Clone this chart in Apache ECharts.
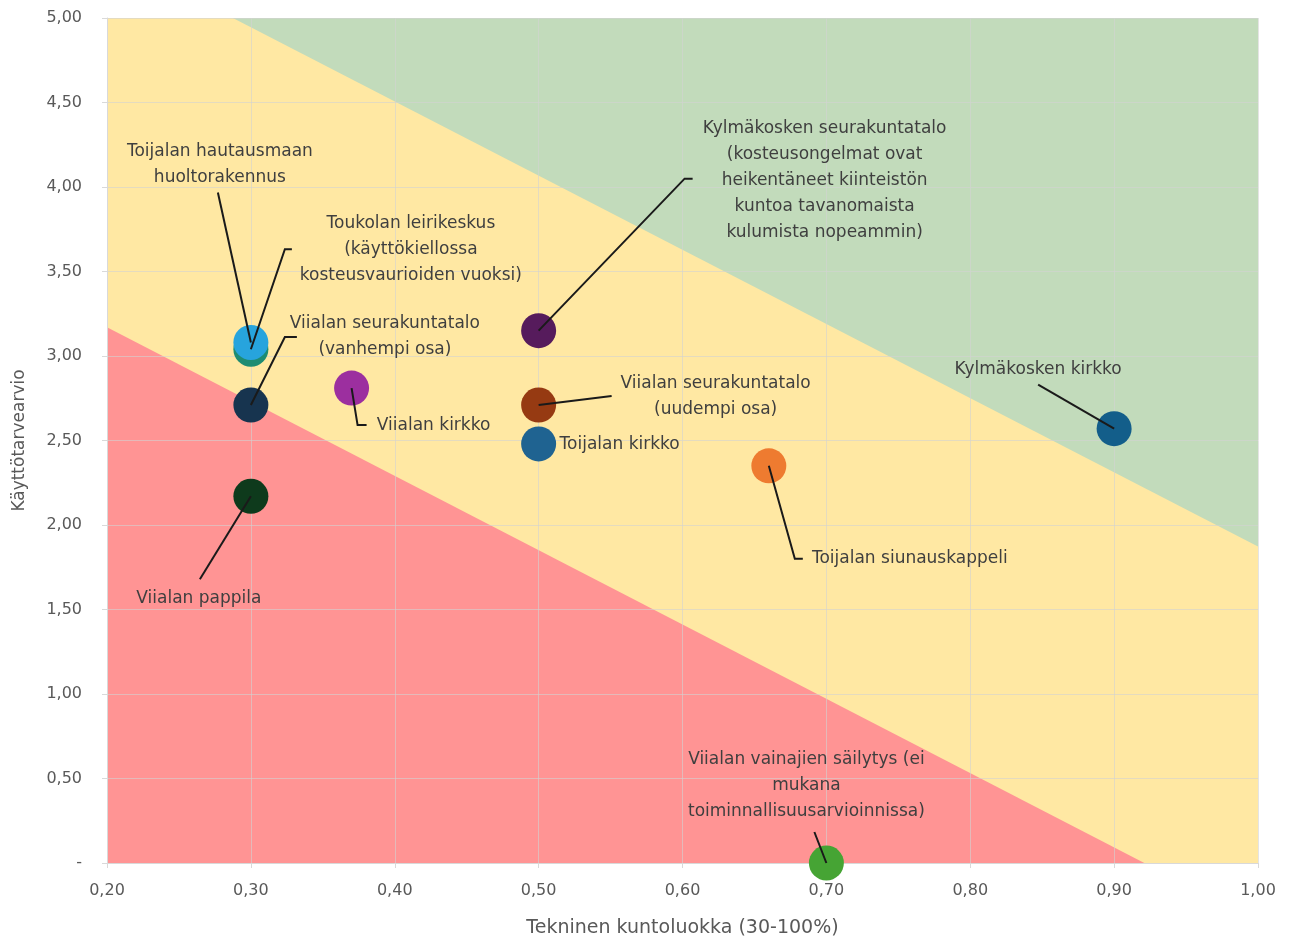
<!DOCTYPE html>
<html>
<head>
<meta charset="utf-8">
<script src="https://cdn.jsdelivr.net/npm/echarts@6/dist/echarts.min.js"></script>
<style>
  html, body { margin: 0; padding: 0; background: #fff; }
  #chart { width: 1293px; height: 943px; }
</style>
</head>
<body>
<div id="chart"></div>
<script>
// kohteet (x = tekninen kuntoluokka, y = käyttötarvearvio)
const buildings = [
  'Toukolan leirikeskus\n(käyttökiellossa\nkosteusvaurioiden vuoksi)',
  'Toijalan hautausmaan\nhuoltorakennus',
  'Viialan seurakuntatalo\n(vanhempi osa)',
  'Viialan pappila',
  'Viialan kirkko',
  'Kylmäkosken seurakuntatalo\n(kosteusongelmat ovat\nheikentäneet kiinteistön\nkuntoa tavanomaista\nkulumista nopeammin)',
  'Viialan seurakuntatalo\n(uudempi osa)',
  'Toijalan kirkko',
  'Toijalan siunauskappeli',
  'Kylmäkosken kirkko',
  'Viialan vainajien säilytys (ei\nmukana\ntoiminnallisuusarvioinnissa)'
]
const technical = [0.30, 0.30, 0.30, 0.30, 0.37, 0.50, 0.50, 0.50, 0.66, 0.90, 0.70]
const usage = [3.04, 3.08, 2.71, 2.17, 2.81, 3.15, 2.71, 2.48, 2.35, 2.57, 0.00]

// taustan vyöhykkeet
const redZone = [[0.20, 3.17], [0.921, 0]]
const greenZone = [[0.2875, 5], [1.00, 1.873]]
const yellowZone = [[0.20, 5], [1.00, 5]]

const xTicks = [0.2, 1.0, 0.1]
const yTicks = [0, 5, 0.5]

// tyylit
const pointColors = ['#1E8C72', '#27A4DD', '#17344F', '#0E3A1C', '#9C2F9F',
  '#561B5C', '#963A12', '#1F6391', '#EE7B30', '#135E8A', '#46A434']
// tekstin keskipisteen siirtymä pisteestä (px)
const labelOffsets = [[160, -100], [-31, -178], [134, -68], [-52, 102], [82, 37],
  [286, -150], [177, -8], [81, 1], [141, 93], [-76, -59], [-20, -77]]
// johtoviivojen taitekohdat pisteestä (px)
const leaderPaths = [
  [[34, -100], [41, -100]],
  [[-33, -150]],
  [[34, -68], [46, -68]],
  [[-51, 83]],
  [[6, 37], [15, 37]],
  [[146, -152], [154, -152]],
  [[73, -9]],
  null,
  [[26, 93], [34, 93]],
  [[-76, -44]],
  [[-12, -31]]
]

const fmt = v => (Math.abs(v) < 1e-9 ? '-' : v.toFixed(2).replace('.', ','))
const fontFamily = '"DejaVu Sans", "Liberation Sans", sans-serif'

function zone(name, data, color, origin) {
  return {
    name: name,
    type: 'line',
    data: data,
    z: -1,
    silent: true,
    showSymbol: false,
    symbol: 'none',
    lineStyle: { width: 0 },
    areaStyle: { color: color, opacity: 1, origin: origin },
    animation: false
  }
}

const points = technical.map((x, i) => [x, usage[i]])

const chart = echarts.init(document.getElementById('chart'))
chart.setOption({
  animation: false,
  grid: { left: 107, top: 18, right: 35, bottom: 79 },
  xAxis: {
    type: 'value',
    min: xTicks[0],
    max: xTicks[1],
    interval: xTicks[2],
    name: 'Tekninen kuntoluokka (30-100%)',
    nameLocation: 'middle',
    nameGap: 56,
    nameTextStyle: { color: '#595959', fontSize: 19, fontFamily: fontFamily },
    axisLine: { show: true, lineStyle: { color: '#d9d9d9' } },
    axisTick: { show: true, length: 5, lineStyle: { color: '#d9d9d9' } },
    axisLabel: { color: '#595959', fontSize: 16, margin: 20, fontFamily: fontFamily, formatter: v => v.toFixed(2).replace('.', ',') },
    splitLine: { show: true, lineStyle: { color: 'rgba(210,210,210,0.6)' } }
  },
  yAxis: {
    type: 'value',
    min: yTicks[0],
    max: yTicks[1],
    interval: yTicks[2],
    name: 'Käyttötarvearvio',
    nameLocation: 'middle',
    nameGap: 79,
    nameRotate: 90,
    nameTextStyle: { color: '#595959', fontSize: 17, fontFamily: fontFamily },
    axisLine: { show: true, lineStyle: { color: '#d9d9d9' } },
    axisTick: { show: true, length: 5, lineStyle: { color: '#d9d9d9' } },
    axisLabel: { color: '#595959', fontSize: 16, margin: 25, fontFamily: fontFamily, formatter: fmt },
    splitLine: { show: true, lineStyle: { color: 'rgba(210,210,210,0.6)' } }
  },
  series: [
    zone('keltainen', yellowZone, '#FFE8A3', 'start'),
    zone('punainen', redZone, '#FF9494', 'start'),
    zone('vihreä', greenZone, '#C2DBBB', 'end'),
    {
      name: 'kohteet',
      type: 'scatter',
      symbolSize: 35,
      data: buildings.map((b, i) => ({
        name: b,
        value: points[i],
        itemStyle: { color: pointColors[i], opacity: 1 }
      })),
      label: {
        show: true,
        position: 'inside',
        formatter: p => p.name,
        color: '#3f3f3f',
        fontSize: 17,
        lineHeight: 26,
        align: 'center',
        fontFamily: fontFamily
      },
      labelLayout: function (params) {
        const o = labelOffsets[params.dataIndex]
        return { dx: o[0], dy: o[1] }
      }
    },
    {
      name: 'johtoviivat',
      type: 'custom',
      silent: true,
      z: 3,
      data: points,
      renderItem: function (params, api) {
        const path = leaderPaths[params.dataIndex]
        if (!path) return null
        const c = api.coord([api.value(0), api.value(1)])
        const pts = [c].concat(path.map(p => [c[0] + p[0], c[1] + p[1]]))
        return {
          type: 'polyline',
          shape: { points: pts },
          style: { stroke: '#1a1a1a', lineWidth: 2, fill: null }
        }
      }
    }
  ]
})
</script>
</body>
</html>
